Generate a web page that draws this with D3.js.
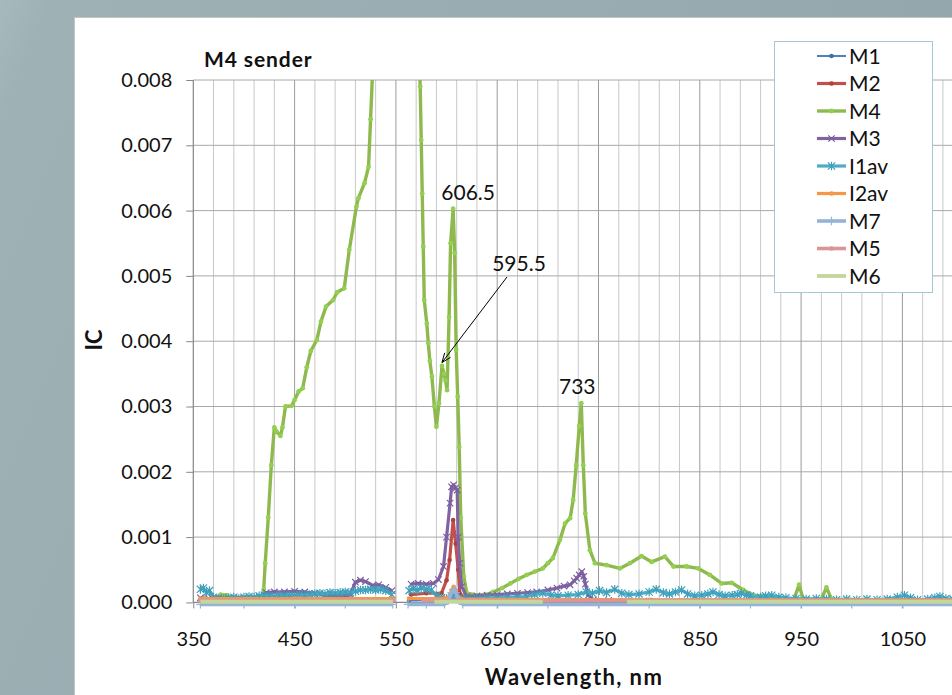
<!DOCTYPE html>
<html>
<head>
<meta charset="utf-8">
<script src="https://cdn.jsdelivr.net/npm/d3@7"></script>
<style>
  html, body { margin: 0; padding: 0; overflow: hidden; background: #9aaeb3; }
  svg text { font-family: Lato, "Open Sans", "Liberation Sans", sans-serif; fill: #111; }
</style>
</head>
<body>
<svg id="chart" width="952" height="695"></svg>
<script>
// ---- data: [wavelength (nm), IC]; null marks a gap in the record ----
const seriesNames = ["M1", "M2", "M4", "M3", "I1av", "I2av", "M7", "M5", "M6"];

const M1 = [[357,0.00003],[450,0.00003],[547,0.00003],[555,null],[563,0.00003],[600,0.00004],[604,0.0001],[607,0.00015],[610,0.0001],[614,0.00004],[700,0.00002],[850,0.00002],[1125,0.00002]];

const M2 = [[357,0.00004],[420,0.00004],[470,0.00005],[547,0.00004],[555,null],[565,0.00012],[580,0.00014],[595,0.00014],[600,0.00034],[603,0.00065],[606.5,0.00126],[609,0.0009],[611.5,0.0005],[613,0.00014],[620,0.00004],[700,0.00003],[800,0.00003],[1125,0.00003]];

const M4 = [[357,0.00002],[365,0.00003],[372,0.00006],[377,0.00012],[383,0.00011],[388,0.00006],[395,0.00004],[405,0.00004],[412,0.00005],[418,0.00006],[419.5,0.0002],[421,0.0006],[424,0.0013],[427,0.0021],[430,0.00268],[432,0.00262],[436,0.00255],[438,0.00268],[441,0.003],[447,0.00301],[450,0.0031],[454,0.00323],[458,0.00328],[462,0.0036],[466,0.00385],[472,0.00402],[476,0.0043],[481,0.00453],[488,0.00463],[492,0.00475],[499,0.00481],[504,0.0054],[511,0.00606],[513,0.00619],[519,0.00642],[523,0.00667],[525,0.0074],[528,0.0085],[535,0.0115],[545,0.0142],[555,0.0136],[565,0.0108],[572,0.0088],[574,0.0079],[575,0.00708],[576,0.00626],[577,0.00545],[578,0.00463],[580.5,0.00427],[582,0.00397],[583.5,0.0037],[585.5,0.00346],[588,0.003],[590,0.00269],[592.5,0.00305],[595.5,0.00362],[597.5,0.0035],[599,0.0034],[600.5,0.00325],[602.5,0.00437],[604,0.0055],[606.5,0.00603],[608,0.00535],[609.5,0.00387],[611,0.00315],[612.5,0.00238],[614,0.0013],[617,0.0004],[620,0.00014],[630,0.00011],[640,0.00012],[646,0.00016],[655,0.00022],[663,0.00029],[671,0.00036],[679,0.00042],[687,0.00047],[695,0.00052],[700,0.0006],[705,0.00068],[712,0.00096],[717,0.00121],[722,0.00129],[725,0.00157],[728,0.0021],[731,0.0027],[733,0.00305],[735,0.0021],[737,0.00136],[741.5,0.0008],[746.5,0.0006],[758,0.00057],[771,0.00052],[781,0.0006],[792.5,0.00071],[802.5,0.00062],[815.5,0.0007],[824,0.00055],[837,0.00055],[848.5,0.00052],[860,0.00042],[871.5,0.00029],[881.5,0.0003],[893,0.00019],[903,0.00011],[910,0.0001],[920,0.00006],[930,0.00005],[943,0.00005],[948,0.00027],[952,0.00005],[970,0.00005],[975,0.00023],[980,0.00005],[1000,0.00004],[1030,0.00004],[1060,0.00004],[1090,0.00004],[1125,0.00004]];

const M3 = [[357,0.00007],[365,0.00006],[375,0.00007],[385,0.00006],[395,0.00007],[405,0.00006],[415,0.00007],[422,0.00015],[430,0.00016],[440,0.00016],[450,0.00017],[460,0.00016],[470,0.00014],[480,0.00011],[490,0.0001],[500,0.0001],[505,0.00012],[510,0.00031],[515,0.00034],[520,0.00032],[527,0.00026],[533,0.00027],[540,0.00023],[546,0.00018],[555,null],[565,0.00028],[572,0.00029],[580,0.00028],[587,0.00029],[592,0.00035],[597,0.00055],[600,0.001],[603.5,0.00152],[605,0.00177],[607,0.0018],[609,0.00175],[610.5,0.00172],[611.5,0.001],[613,0.0006],[615,0.00024],[620,0.00009],[630,0.0001],[640,0.00011],[650,0.00012],[660,0.00013],[670,0.00014],[680,0.00015],[689,0.00016],[700,0.00019],[709,0.00022],[716,0.00025],[722,0.00027],[726,0.00033],[728.5,0.00037],[731,0.00042],[733.5,0.00047],[735.5,0.0004],[737,0.00028],[740,0.00011],[745,0.00004],[760,0.00003],[800,0.00002],[850,0.00002],[900,0.00002],[950,0.00002],[1000,0.00002],[1050,0.00002],[1100,0.00002],[1125,0.00002]];

const I1av = [[357,0.0002],[360,0.00022],[363,0.00015],[366,0.00018],[370,0.00008],[375,0.00006],[380,0.00005],[385,0.00007],[390,0.00008],[395,0.00006],[400,0.00008],[405,0.00009],[410,0.00008],[415,0.0001],[420,0.00011],[425,0.0001],[430,0.00009],[435,0.00011],[440,0.0001],[445,0.00011],[450,0.0001],[455,0.00012],[460,0.00011],[465,0.00012],[470,0.00013],[475,0.00014],[480,0.00013],[485,0.00015],[490,0.00014],[495,0.00015],[500,0.00016],[505,0.00015],[510,0.00017],[515,0.00019],[520,0.00019],[525,0.0002],[530,0.00019],[535,0.0002],[540,0.00018],[546,0.00012],[555,null],[563,0.00018],[567,0.00021],[571,0.00019],[575,0.00022],[580,0.0002],[585,0.00019],[590,0.0001],[595,0.00007],[600,0.00006],[605,0.00008],[610,0.00007],[615,0.00006],[620,0.00006],[630,0.00006],[640,0.00007],[650,0.00007],[660,0.00008],[670,0.00008],[679,0.00009],[687,0.00012],[695,0.00014],[703,0.00011],[710,0.0001],[720,0.00011],[730,0.00012],[738,0.00016],[744,0.00014],[751,0.00018],[758,0.00015],[766,0.0002],[773,0.00014],[780,0.00012],[790,0.00013],[800,0.00016],[807,0.0002],[814,0.00015],[820,0.00013],[826,0.00016],[832,0.00019],[838,0.00013],[845,0.0001],[852,0.00011],[858,0.00013],[863,0.00016],[869,0.00012],[875,0.0001],[882,0.00011],[887,0.00012],[891,0.00014],[896,0.00011],[900,0.0001],[910,0.00008],[915,0.0001],[921,0.00011],[928,0.00008],[935,0.00007],[945,0.00006],[955,0.00005],[965,0.00006],[975,0.00005],[985,0.00004],[995,0.00005],[1005,0.00004],[1015,0.00005],[1025,0.00004],[1035,0.00005],[1045,0.00008],[1052,0.00011],[1058,0.00007],[1065,0.00004],[1075,0.00005],[1082,0.00007],[1087,0.00009],[1093,0.00006],[1100,0.00005],[1110,0.00006],[1125,0.00005]];

const I2av = [[357,0.00006],[450,0.00006],[547,0.00006],[555,null],[563,0.00006],[598,0.00006],[603,0.00009],[605,0.00018],[607,0.00024],[609,0.00018],[611,0.00008],[615,0.00005],[800,0.00004],[1125,0.00004]];

const M7 = [[357,-0.00003],[400,-0.00003],[450,-0.00003],[500,-0.00003],[547,-0.00003],[555,null],[562,-0.00003],[580,-0.00003],[598,-0.00003],[602,0.00004],[605,0.00015],[607,0.0002],[609,0.00015],[612,0.00004],[616,-0.00003],[650,-0.00003],[700,-0.00003],[750,-0.00003],[800,-0.00003],[850,-0.00003],[900,-0.00003],[950,-0.00003],[1000,-0.00003],[1050,-0.00003],[1100,-0.00003],[1125,-0.00003]];

const M5 = [[357,0.00003],[450,0.00003],[547,0.00003],[555,null],[577,0.00003],[650,0.00003],[700,0.00003],[780,0.00003],[900,0.00003],[1125,0.00003]];

const M6 = [[357,0.00001],[450,0.00001],[547,0.00001],[555,null],[588,0.00001],[650,0.00001],[695,0.00001],[735,null],[778,0.00001],[900,0.00001],[1000,0.00001],[1125,0.00001]];

// peak callouts: [wavelength, IC, label]
const peakLabels = [[606.5, 0.00603, "606.5"], [733, 0.00305, "733"]];
const arrowLabel = [595.5, 0.00362, "595.5"];

const xTickValues = [350, 450, 550, 650, 750, 850, 950, 1050];
const yTickValues = [0, 0.001, 0.002, 0.003, 0.004, 0.005, 0.006, 0.007, 0.008];

const seriesData = { M1, M2, M4, M3, I1av, I2av, M7, M5, M6 };

// ---- styling ----
const styles = {
  M1:   { line: "#4f81bd", width: 2,   marker: "circle",   color: "#3f71ad", size: 2.3 },
  M2:   { line: "#c0504d", width: 3.2, marker: "circle",   color: "#b0403d", size: 2.3 },
  M4:   { line: "#8fb94f", width: 3.4, marker: "circle",   color: "#92d050", size: 2.4 },
  M3:   { line: "#8064a2", width: 3.2, marker: "x",        color: "#7a5ea0", size: 3.2 },
  I1av: { line: "#4bacc6", width: 3.2, marker: "asterisk", color: "#3f9fba", size: 3.6 },
  I2av: { line: "#f79646", width: 3.2, marker: "circle",   color: "#f79646", size: 2.3 },
  M7:   { line: "#95b3d7", width: 3.6, marker: "plus",     color: "#95b3d7", size: 4.2 },
  M5:   { line: "#d99694", width: 3.6, marker: "circle",   color: "#d99694", size: 2.3 },
  M6:   { line: "#c3d69b", width: 3.8, marker: null,       color: "#c3d69b", size: 0 }
};

const svg = d3.select("#chart");

// background gradient and white chart panel
const defs = svg.append("defs");
const bg = defs.append("linearGradient").attr("id", "bg").attr("x1", 0).attr("x2", 1).attr("y1", 0).attr("y2", 0.3);
bg.append("stop").attr("offset", 0).attr("stop-color", "#a6b9bc");
bg.append("stop").attr("offset", 0.05).attr("stop-color", "#9eb2b6");
bg.append("stop").attr("offset", 0.6).attr("stop-color", "#98abb0");
bg.append("stop").attr("offset", 1).attr("stop-color", "#93a6ac");
svg.append("rect").attr("width", 952).attr("height", 695).attr("fill", "url(#bg)");
svg.append("rect").attr("x", 74.5).attr("y", 17.5).attr("width", 1000).attr("height", 800)
  .attr("fill", "#fff").attr("stroke", "#c4c4c4").attr("stroke-width", 1);

// scales
const plotLeft = 193.3, plotTop = 80, plotBottom = 602.4, pxPerNm = 1.013;
const x = d3.scaleLinear().domain([350, 1150]).range([plotLeft, plotLeft + 800 * pxPerNm]);
const y = d3.scaleLinear().domain([0, 0.008]).range([plotBottom, plotTop]);

// gridlines
const grid = svg.append("g");
d3.range(370, 1151, 20).forEach(v => {
  const major = (v - 350) % 100 === 0;
  grid.append("line").attr("x1", x(v)).attr("x2", x(v)).attr("y1", plotTop).attr("y2", plotBottom)
    .attr("stroke", major ? "#9b9b9b" : "#c8c8c8").attr("stroke-width", 1);
});
yTickValues.slice(1).forEach(v => {
  grid.append("line").attr("x1", plotLeft).attr("x2", 1010).attr("y1", y(v)).attr("y2", y(v))
    .attr("stroke", "#a8a8a8").attr("stroke-width", 1);
});

// axes
const yAxis = d3.axisLeft(y).tickValues(yTickValues).tickFormat(d3.format(".3f")).tickSize(7).tickPadding(14);
const gy = svg.append("g").attr("transform", `translate(${plotLeft},0)`).call(yAxis);
const xAxis = d3.axisBottom(x).tickValues(xTickValues).tickFormat(d3.format("d")).tickSize(6).tickPadding(23);
const gx = svg.append("g").attr("transform", `translate(0,${plotBottom})`).call(xAxis);
[gx, gy].forEach(g => {
  g.select(".domain").attr("stroke", "#868686").attr("stroke-width", 1.2);
  g.selectAll(".tick line").attr("stroke", "#868686");
  g.selectAll(".tick text").style("font-size", "20px").attr("fill", "#111");
});
gy.select(".domain").attr("d", `M0,${plotTop}V${plotBottom}`);
gx.select(".domain").attr("d", `M${plotLeft},0H1010`);

// series
defs.append("clipPath").attr("id", "plotClip").append("rect")
  .attr("x", plotLeft).attr("y", plotTop).attr("width", 900).attr("height", plotBottom - plotTop + 10);
const plot = svg.append("g").attr("clip-path", "url(#plotClip)");
const line = d3.line().defined(d => d[1] !== null).x(d => x(d[0])).y(d => y(d[1]));

function drawMarker(g, type, cx, cy, s, color) {
  if (!type) return;
  if (type === "circle") {
    g.append("circle").attr("cx", cx).attr("cy", cy).attr("r", s).attr("fill", color);
    return;
  }
  let p = "";
  if (type === "x" || type === "asterisk") p += `M${cx - s},${cy - s}L${cx + s},${cy + s}M${cx - s},${cy + s}L${cx + s},${cy - s}`;
  if (type === "asterisk") p += `M${cx},${cy - s * 1.2}L${cx},${cy + s * 1.2}`;
  if (type === "plus") p += `M${cx - s},${cy}L${cx + s},${cy}M${cx},${cy - s}L${cx},${cy + s}`;
  g.append("path").attr("d", p).attr("stroke", color).attr("stroke-width", 1.2).attr("fill", "none");
}

seriesNames.forEach(name => {
  const st = styles[name];
  const data = seriesData[name];
  const g = plot.append("g");
  g.append("path").datum(data).attr("d", line).attr("fill", "none")
    .attr("stroke", st.line).attr("stroke-width", st.width).attr("stroke-linejoin", "round");
  data.filter(d => d[1] !== null).forEach(d => drawMarker(g, st.marker, x(d[0]), y(d[1]), st.size, st.color));
});

// peak callouts
peakLabels.forEach(([wl, v, txt]) => {
  svg.append("text").attr("x", x(wl) + (txt === "733" ? -4 : 15)).attr("y", y(v) - 9)
    .attr("text-anchor", "middle").style("font-size", "21px").text(txt);
});
{
  const [wl, v, txt] = arrowLabel;
  const hx = x(wl), hy = y(v) - 3.5;
  const lx = hx + 77, ly = y(v) - 95;
  svg.append("text").attr("x", lx).attr("y", ly).attr("text-anchor", "middle").style("font-size", "21px").text(txt);
  const tx = lx - 12, ty = ly + 6;
  const ang = Math.atan2(hy - ty, hx - tx), len = 10, spread = 0.38;
  svg.append("path")
    .attr("d", `M${tx},${ty}L${hx},${hy}` +
      `M${hx - len * Math.cos(ang - spread)},${hy - len * Math.sin(ang - spread)}L${hx},${hy}` +
      `L${hx - len * Math.cos(ang + spread)},${hy - len * Math.sin(ang + spread)}`)
    .attr("stroke", "#000").attr("stroke-width", 1).attr("fill", "none");
}

// titles
svg.append("text").attr("x", 204).attr("y", 67).style("font-size", "21px").style("font-weight", "bold")
  .style("letter-spacing", "0.9px").text("M4 sender");
svg.append("text").attr("x", 574).attr("y", 685).attr("text-anchor", "middle")
  .style("font-size", "22px").style("font-weight", "bold").style("letter-spacing", "1.4px").text("Wavelength, nm");
svg.append("text").attr("transform", "translate(102,340) rotate(-90)").attr("text-anchor", "middle")
  .style("font-size", "22px").style("font-weight", "bold").text("IC");

// legend
const legend = svg.append("g");
legend.append("rect").attr("x", 774.5).attr("y", 41.5).attr("width", 158).attr("height", 251)
  .attr("fill", "#fff").attr("stroke", "#a9c6d4").attr("stroke-width", 1);
seriesNames.forEach((name, i) => {
  const st = styles[name];
  const cy = 56 + i * 27.5;
  legend.append("line").attr("x1", 817).attr("x2", 846).attr("y1", cy).attr("y2", cy)
    .attr("stroke", st.line).attr("stroke-width", st.width);
  drawMarker(legend, st.marker, 831.5, cy, st.size, st.color);
  legend.append("text").attr("x", 849).attr("y", cy + 7.5).style("font-size", "21px").text(name);
});
</script>
</body>
</html>
